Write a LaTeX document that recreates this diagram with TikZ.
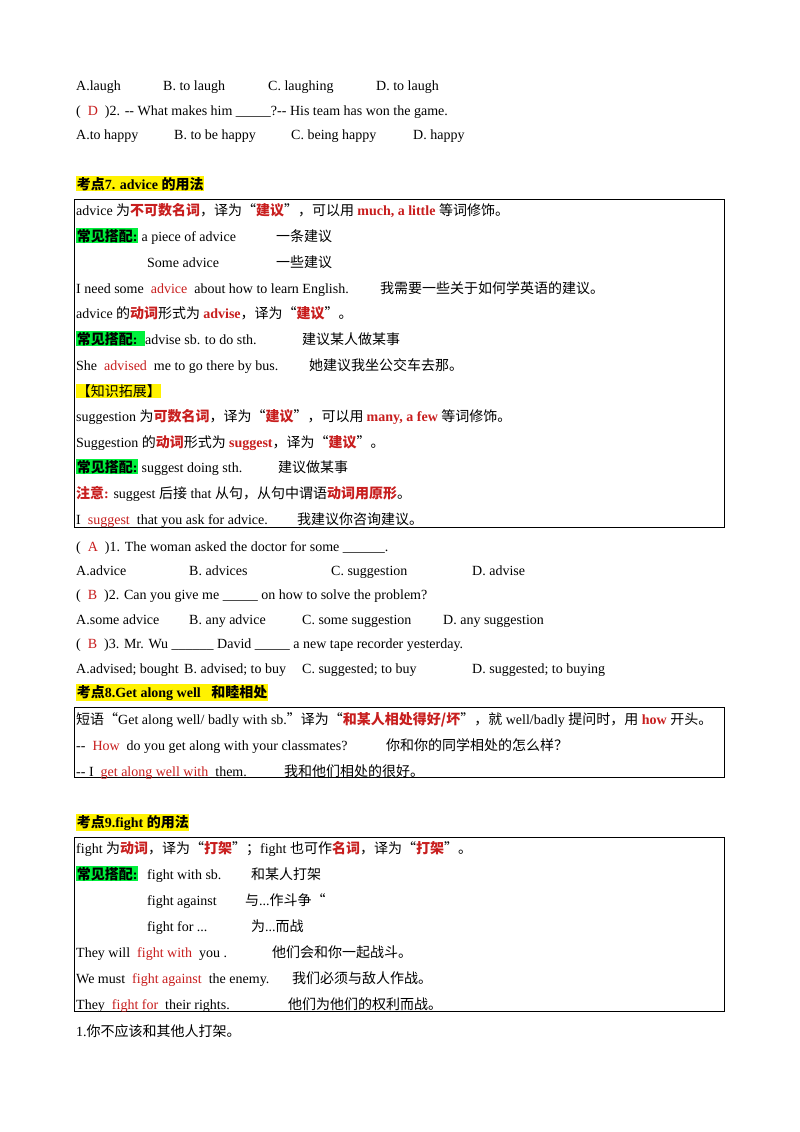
\documentclass[tikz,border=0pt]{standalone}
\usepackage{fontspec}
\setmainfont{Liberation Serif}
\newfontfamily\zhfont{Noto Sans CJK SC}
\definecolor{myred}{RGB}{200,30,30}
\definecolor{mygreen}{RGB}{0,240,60}
\newcommand\zh[1]{{\zhfont #1}}
\newcommand\rb[1]{\textcolor{myred}{\bfseries #1}}
\newcommand\rz[1]{\textcolor{myred}{\zhfont\bfseries #1}}
\newcommand\rr[1]{\textcolor{myred}{#1}}
\newcommand\hly[1]{{\setlength\fboxsep{0.6pt}\colorbox{yellow}{#1}}}
\newcommand\hlg[1]{{\setlength\fboxsep{0.6pt}\colorbox{mygreen}{#1}}}
\newcommand\T[3]{\node[txt] at (#1pt,-#2pt-1pt) {#3};}
\tikzset{txt/.style={anchor=base west,inner sep=0pt,font=\fontsize{14}{16}\selectfont},
 frame/.style={draw,line width=0.8pt}}
\begin{document}
\begin{tikzpicture}
\useasboundingbox[fill=white] (0,0) rectangle (800pt,-1132pt);
\T{76}{89}{A.laugh}\T{163}{89}{B. to laugh}\T{268}{89}{C. laughing}\T{376}{89}{D. to laugh}
\T{76}{114}{(\ \ \rr{D}\ \ )2. -{}- What makes him \_\_\_\_\_?-{}- His team has won the game.}
\T{76}{138}{A.to happy}\T{174}{138}{B. to be happy}\T{291}{138}{C. being happy}\T{413}{138}{D. happy}
\T{76}{188}{\hly{\bfseries\zh{考点}7. advice \zh{的用法}}}
\draw[frame] (74pt,-199pt) rectangle (724pt,-527pt);
\T{76}{214}{advice \zh{为}\rz{不可数名词}\zh{，译为“}\rz{建议}\zh{”，可以用 }\rb{much, a little} \zh{等词修饰。}}
\T{76}{240}{\hlg{\zh{\bfseries 常见搭配}\bfseries:}\ a piece of advice}\T{276}{240}{\zh{一条建议}}
\T{147}{266}{Some advice}\T{276}{266}{\zh{一些建议}}
\T{76}{292}{I need some \ \rr{advice}\ \ about how to learn English.}\T{380}{292}{\zh{我需要一些关于如何学英语的建议。}}
\T{76}{317}{advice \zh{的}\rz{动词}\zh{形式为 }\rb{advise}\zh{，译为“}\rz{建议}\zh{”。}}
\T{76}{343}{\hlg{\zh{\bfseries 常见搭配}\bfseries:\ \ }advise sb. to do sth.}\T{302}{343}{\zh{建议某人做某事}}
\T{76}{369}{She \ \rr{advised}\ \ me to go there by bus.}\T{309}{369}{\zh{她建议我坐公交车去那。}}
\T{76}{395}{\hly{\zh{【知识拓展】}}}
\T{76}{420}{suggestion \zh{为}\rz{可数名词}\zh{，译为“}\rz{建议}\zh{”，可以用 }\rb{many, a few} \zh{等词修饰。}}
\T{76}{446}{Suggestion \zh{的}\rz{动词}\zh{形式为 }\rb{suggest}\zh{，译为“}\rz{建议}\zh{”。}}
\T{76}{471}{\hlg{\zh{\bfseries 常见搭配}\bfseries:}\ suggest doing sth.}\T{278}{471}{\zh{建议做某事}}
\T{76}{497}{\rz{注意}\rb{:} suggest \zh{后接} that \zh{从句，从句中谓语}\rz{动词用原形}\zh{。}}
\T{76}{523}{I \ \rr{suggest}\ \ that you ask for advice.}\T{297}{523}{\zh{我建议你咨询建议。}}
\T{76}{550}{(\ \ \rr{A}\ \ )1. The woman asked the doctor for some \_\_\_\_\_\_.}
\T{76}{574}{A.advice}\T{189}{574}{B. advices}\T{331}{574}{C. suggestion}\T{472}{574}{D. advise}
\T{76}{598}{(\ \ \rr{B}\ \ )2. Can you give me \_\_\_\_\_ on how to solve the problem?}
\T{76}{623}{A.some advice}\T{189}{623}{B. any advice}\T{302}{623}{C. some suggestion}\T{443}{623}{D. any suggestion}
\T{76}{647}{(\ \ \rr{B}\ \ )3. Mr. Wu \_\_\_\_\_\_ David \_\_\_\_\_ a new tape recorder yesterday.}
\T{76}{672}{A.advised; bought}\T{184}{672}{B. advised; to buy}\T{302}{672}{C. suggested; to buy}\T{472}{672}{D. suggested; to buying}
\T{76}{696}{\hly{\bfseries\zh{考点}8.Get along well\ \ \ \zh{和睦相处}}}
\draw[frame] (74pt,-707pt) rectangle (724pt,-777pt);
\T{76}{723}{\zh{短语“}Get along well/ badly with sb.\zh{”译为“}\rz{和某人相处得好/坏}\zh{”，就} well/badly \zh{提问时，用} \rb{how} \zh{开头。}}
\T{76}{749}{-{}- \ \rr{How}\ \ do you get along with your classmates?}\T{386}{749}{\zh{你和你的同学相处的怎么样？}}
\T{76}{775}{-{}- I \ \rr{get along well with}\ \ them.}\T{284}{775}{\zh{我和他们相处的很好。}}
\T{76}{826}{\hly{\bfseries\zh{考点}9.fight \zh{的用法}}}
\draw[frame] (74pt,-837pt) rectangle (724pt,-1011pt);
\T{76}{852}{fight \zh{为}\rz{动词}\zh{，译为“}\rz{打架}\zh{”；}fight \zh{也可作}\rz{名词}\zh{，译为“}\rz{打架}\zh{”。}}
\T{76}{878}{\hlg{\zh{\bfseries 常见搭配}\bfseries:}}\T{147}{878}{fight with sb.}\T{251}{878}{\zh{和某人打架}}
\T{147}{904}{fight against}\T{245}{904}{\zh{与}...\zh{作斗争“}}
\T{147}{930}{fight for ...}\T{251}{930}{\zh{为}...\zh{而战}}
\T{76}{956}{They will \ \rr{fight with}\ \ you .}\T{272}{956}{\zh{他们会和你一起战斗。}}
\T{76}{982}{We must \ \rr{fight against}\ \ the enemy.}\T{292}{982}{\zh{我们必须与敌人作战。}}
\T{76}{1008}{They \ \rr{fight for}\ \ their rights.}\T{288}{1008}{\zh{他们为他们的权利而战。}}
\T{76}{1035}{1.\zh{你不应该和其他人打架。}}
\end{tikzpicture}
\end{document}
